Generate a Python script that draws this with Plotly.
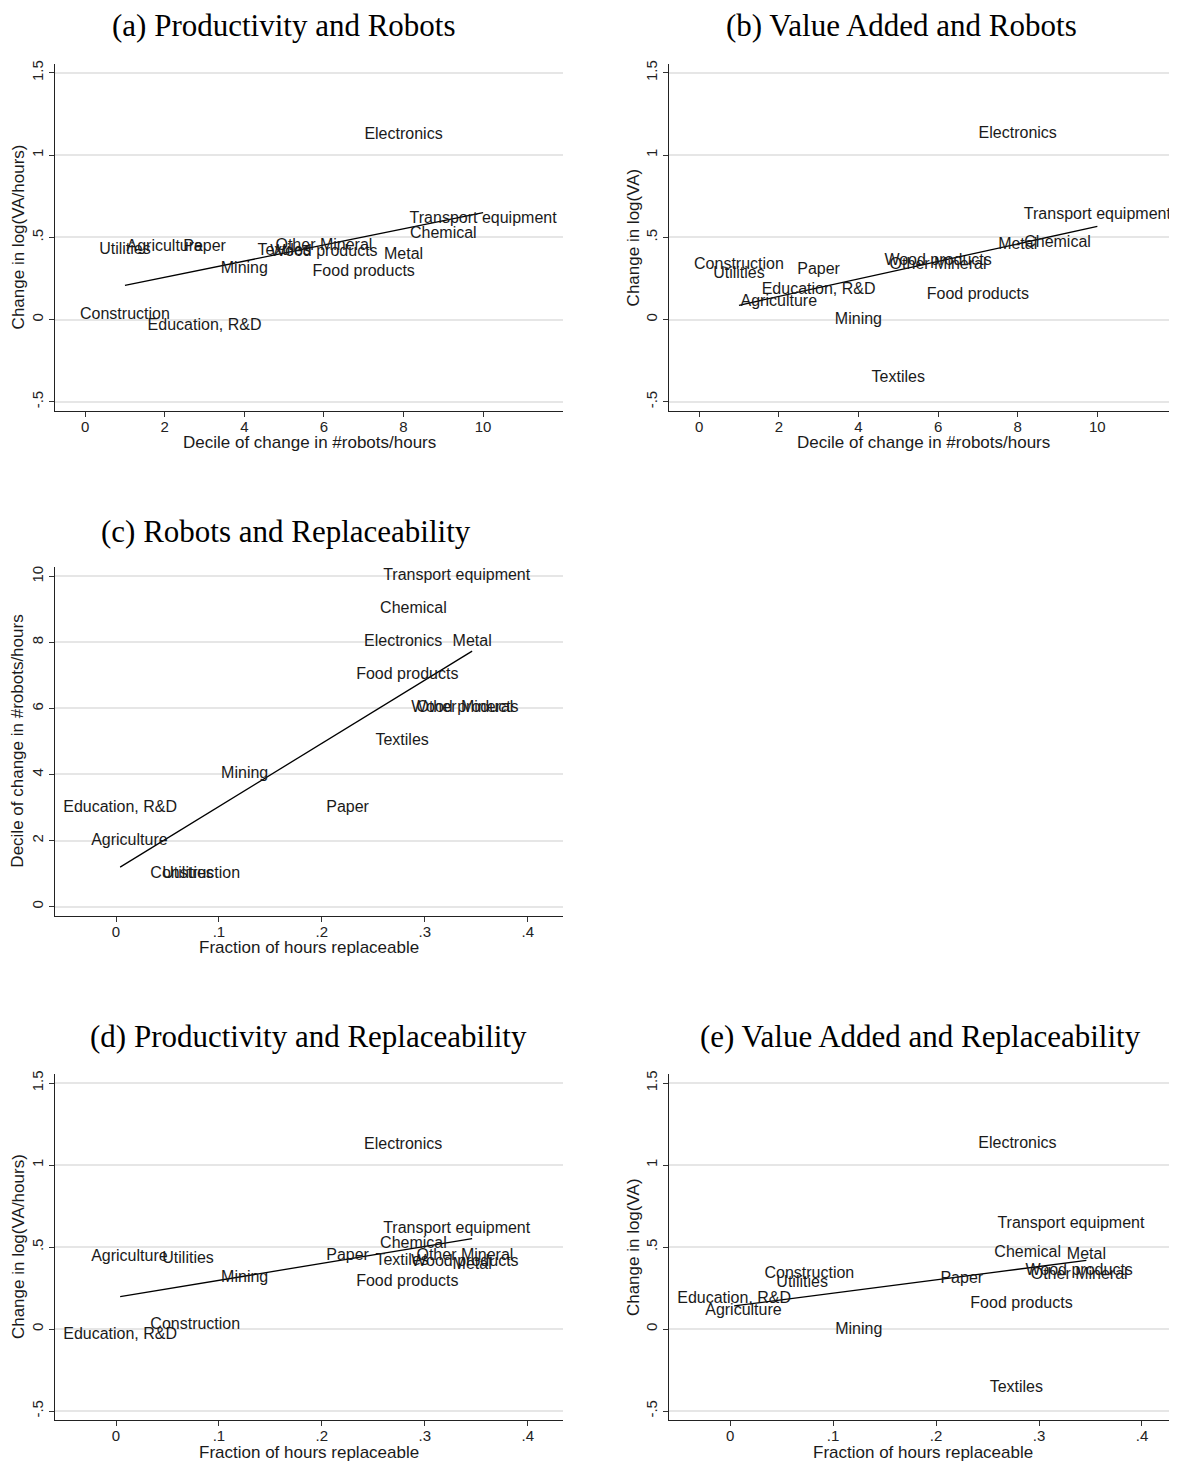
import numpy as np
import plotly.graph_objects as go

# ---------------- data ----------------
industries = ["Agriculture", "Mining", "Food products", "Textiles", "Wood products",
              "Paper", "Chemical", "Other Mineral", "Metal", "Electronics",
              "Transport equipment", "Utilities", "Construction", "Education, R&D"]
robot_decile = [2, 4, 7, 5, 6, 3, 9, 6, 8, 8, 10, 1, 1, 3]
replaceable = [0.013, 0.125, 0.283, 0.278, 0.339, 0.225, 0.289, 0.339, 0.346, 0.279,
               0.331, 0.070, 0.077, 0.004]
dlog_va_hours = [0.44, 0.31, 0.29, 0.416, 0.41, 0.443, 0.521, 0.448, 0.39, 1.123,
                 0.61, 0.426, 0.026, -0.039]
dlog_va = [0.11, -0.004, 0.15, -0.358, 0.357, 0.303, 0.465, 0.332, 0.451, 1.128,
           0.638, 0.278, 0.334, 0.182]

log_ticks = [-0.5, 0, 0.5, 1, 1.5]
log_ticklabels = ["-.5", "0", ".5", "1", "1.5"]
decile_ticks = [0, 2, 4, 6, 8, 10]
decile_ticklabels = ["0", "2", "4", "6", "8", "10"]
frac_ticks = [0, 0.1, 0.2, 0.3, 0.4]
frac_ticklabels = ["0", ".1", ".2", ".3", ".4"]

titles = ["(a) Productivity and Robots", "(b) Value Added and Robots",
          "(c) Robots and Replaceability", "(d) Productivity and Replaceability",
          "(e) Value Added and Replaceability"]
xlab_decile = "Decile of change in #robots/hours"
xlab_frac = "Fraction of hours replaceable"
ylab_prod = "Change in log(VA/hours)"
ylab_va = "Change in log(VA)"
ylab_decile = "Decile of change in #robots/hours"

# ---------------- layout ----------------
OFF = 8                      # page body margin
W, H = 1177 - OFF, 1464 - OFF
SANS = "Liberation Sans, Arial, sans-serif"
SERIF = "Liberation Serif, Times New Roman, serif"


def fx(px):
    return (px - OFF) / W


def fy(py):
    return 1 - (py - OFF) / H


LEFT_X = (55.3, 562.7)
RIGHT_X = (669.3, 1177.0)
ROW1 = (60, 408)
ROW2 = (565, 914.3)
ROW3 = (1073, 1420)

panels = [
    dict(x=robot_decile, y=dlog_va_hours, px=LEFT_X, py=ROW1, xr=[-0.75, 12], yr=[-0.555, 1.555],
         xt=(decile_ticks, decile_ticklabels), yt=(log_ticks, log_ticklabels),
         title=titles[0], tpos=(284, 22), xlab=xlab_decile, ylab=ylab_prod, ylx=18),
    dict(x=robot_decile, y=dlog_va, px=RIGHT_X, py=ROW1, xr=[-0.75, 12], yr=[-0.555, 1.555],
         xt=(decile_ticks, decile_ticklabels), yt=(log_ticks, log_ticklabels),
         title=titles[1], tpos=(901, 22), xlab=xlab_decile, ylab=ylab_va, ylx=633),
    dict(x=replaceable, y=robot_decile, px=LEFT_X, py=ROW2, xr=[-0.059, 0.434], yr=[-0.28, 10.27],
         xt=(frac_ticks, frac_ticklabels), yt=(decile_ticks, decile_ticklabels),
         title=titles[2], tpos=(286, 529), xlab=xlab_frac, ylab=ylab_decile, ylx=18),
    dict(x=replaceable, y=dlog_va_hours, px=LEFT_X, py=ROW3, xr=[-0.059, 0.434], yr=[-0.555, 1.555],
         xt=(frac_ticks, frac_ticklabels), yt=(log_ticks, log_ticklabels),
         title=titles[3], tpos=(308, 1035), xlab=xlab_frac, ylab=ylab_prod, ylx=18),
    dict(x=replaceable, y=dlog_va, px=RIGHT_X, py=ROW3, xr=[-0.059, 0.434], yr=[-0.555, 1.555],
         xt=(frac_ticks, frac_ticklabels), yt=(log_ticks, log_ticklabels),
         title=titles[4], tpos=(920, 1035), xlab=xlab_frac, ylab=ylab_va, ylx=633),
]

fig = go.Figure()
annotations = []
layout_axes = {}

for i, p in enumerate(panels, start=1):
    xa = "x" if i == 1 else f"x{i}"
    ya = "y" if i == 1 else f"y{i}"
    xkey = "xaxis" if i == 1 else f"xaxis{i}"
    ykey = "yaxis" if i == 1 else f"yaxis{i}"

    xs = np.array(p["x"], dtype=float)
    ys = np.array(p["y"], dtype=float)

    # fitted line (least squares, drawn over the observed x range)
    b, a = np.polyfit(xs, ys, 1)
    lx = np.array([xs.min(), xs.max()])
    fig.add_trace(go.Scatter(x=lx, y=a + b * lx, mode="lines", xaxis=xa, yaxis=ya,
                             line=dict(color="black", width=1.3), showlegend=False,
                             hoverinfo="skip"))
    # industry labels centred on the points
    fig.add_trace(go.Scatter(x=xs, y=ys, mode="text", text=industries, xaxis=xa, yaxis=ya,
                             textposition="middle center",
                             textfont=dict(family=SANS, size=16, color="#1a1a1a"),
                             showlegend=False))

    layout_axes[xkey] = dict(
        domain=[fx(p["px"][0]), min(1.0, fx(p["px"][1]))], range=p["xr"], anchor=ya,
        tickmode="array", tickvals=p["xt"][0], ticktext=p["xt"][1],
        showgrid=False, zeroline=False, showline=True, linecolor="#222", linewidth=1.3,
        ticks="outside", ticklen=5, tickwidth=1.2, tickcolor="#333",
        tickfont=dict(family=SANS, size=15, color="#222"))
    layout_axes[ykey] = dict(
        domain=[fy(p["py"][1]), fy(p["py"][0])], range=p["yr"], anchor=xa,
        tickmode="array", tickvals=p["yt"][0], ticktext=p["yt"][1], tickangle=-90,
        showgrid=True, gridcolor="#e6e6e6", gridwidth=1.5, zeroline=False,
        showline=True, linecolor="#222", linewidth=1.3,
        ticks="outside", ticklen=5, tickwidth=1.2, tickcolor="#333",
        tickfont=dict(family=SANS, size=15, color="#222"))

    # panel title
    annotations.append(dict(text=p["title"], x=fx(p["tpos"][0]), y=fy(p["tpos"][1]),
                            xref="paper", yref="paper", xanchor="center", yanchor="middle",
                            showarrow=False, font=dict(family=SERIF, size=31, color="black")))
    # x-axis title
    cx = (p["px"][0] + p["px"][1]) / 2 if i in (1, 3, 4) else p["px"][0] + 254
    annotations.append(dict(text=p["xlab"], x=fx(cx), y=fy(p["py"][1] + 32),
                            xref="paper", yref="paper", xanchor="center", yanchor="middle",
                            showarrow=False, font=dict(family=SANS, size=17, color="#1a1a1a")))
    # y-axis title
    cy = (p["py"][0] + p["py"][1]) / 2
    annotations.append(dict(text=p["ylab"], x=fx(p["ylx"]), y=fy(cy), textangle=-90,
                            xref="paper", yref="paper", xanchor="center", yanchor="middle",
                            showarrow=False, font=dict(family=SANS, size=17, color="#1a1a1a")))

fig.update_layout(width=W, height=H, margin=dict(l=0, r=0, t=0, b=0),
                  paper_bgcolor="white", plot_bgcolor="white",
                  annotations=annotations, showlegend=False, **layout_axes)

# pull the x tick labels a little closer to the axis line, as in the reference
for i in range(1, 6):
    key = "xaxis" if i == 1 else f"xaxis{i}"
    try:
        fig.layout[key].ticklabelstandoff = -3
    except Exception:
        pass

fig.write_html("out.html")
